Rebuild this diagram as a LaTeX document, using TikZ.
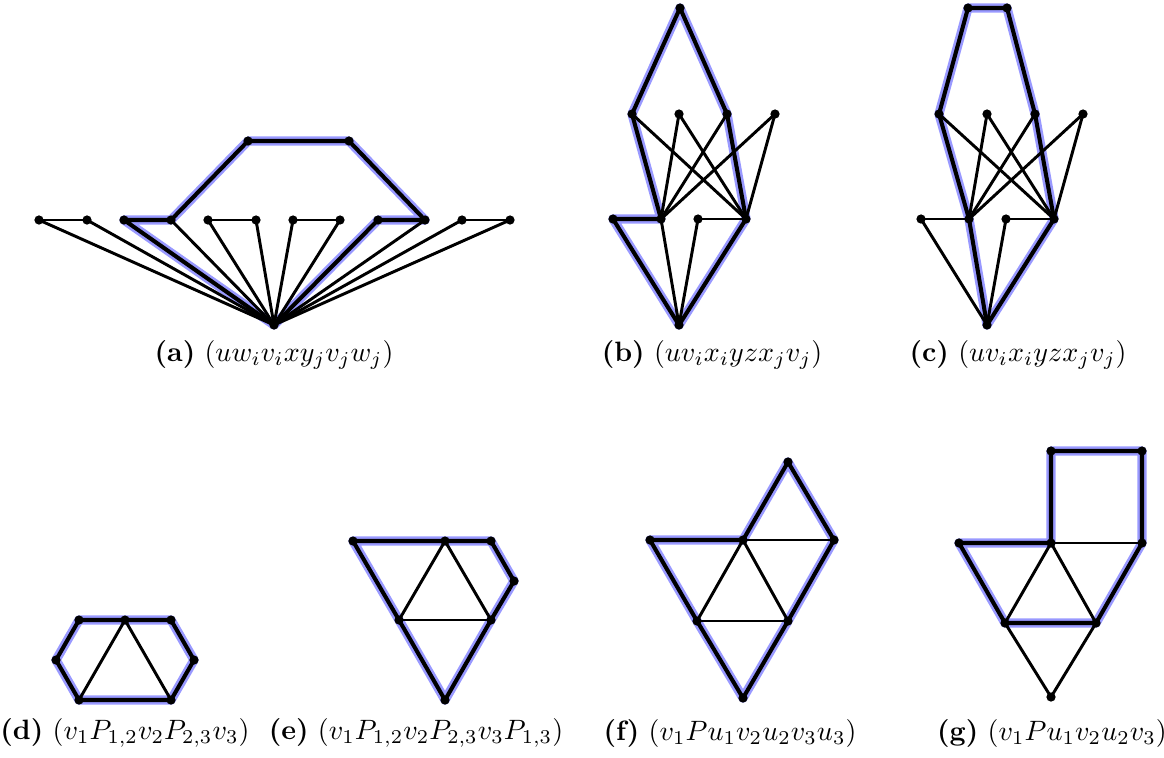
\documentclass[tikz,border=0pt]{standalone}
\begin{document}
\begin{tikzpicture}[x=0.3571pt,y=-0.3571pt,
  hl/.style={line width=3.3pt, blue!40, line cap=round, line join=round},
  tedge/.style={line width=1.45pt, black, line cap=round, line join=round},
  edge/.style={line width=1.05pt, black, line cap=round},
  dot/.style={circle, fill=black, inner sep=0pt, minimum size=3.3pt},
  captxt/.style={inner sep=0pt, anchor=center}]
\useasboundingbox (0,0) rectangle (1164,757);
% ---------- (a)
\foreach \n/\x in {1/39,2/87,3/124,4/171,5/208,6/256,7/293,8/340,9/378,10/425,11/462,12/510}
  \coordinate (a\n) at (\x,220);
\coordinate (ax) at (248,141); \coordinate (ay) at (349,141); \coordinate (au) at (274,325);
\draw[hl] (au) -- (a3) -- (a4) -- (ax) -- (ay) -- (a10) -- (a9) -- cycle;
\draw[tedge] (au) -- (a3) -- (a4) -- (ax) -- (ay) -- (a10) -- (a9) -- cycle;
\foreach \p/\q in {a1/a2,a5/a6,a7/a8,a11/a12,au/a1,au/a2,au/a4,au/a5,au/a6,au/a7,au/a8,au/a10,au/a11,au/a12}
  \draw[edge] (\p) -- (\q);
\foreach \c in {a1,a2,a3,a4,a5,a6,a7,a8,a9,a10,a11,a12,ax,ay,au}
  \node[dot] (n\c) at (\c) {};
\node[captxt] (capa) at (274,355) {\textbf{(a)} $(uw_iv_ixy_jv_jw_j)$};
% ---------- (b)
\coordinate (bt) at (680,8);
\coordinate (b1) at (632,114); \coordinate (b2) at (679,114); \coordinate (b3) at (727,114); \coordinate (b4) at (775,114);
\coordinate (b5) at (613,219); \coordinate (b6) at (661,219); \coordinate (b7) at (698,219); \coordinate (b8) at (746,219);
\coordinate (bu) at (679,325);
\draw[hl] (bu) -- (b5) -- (b6) -- (b1) -- (bt) -- (b3) -- (b8) -- cycle;
\draw[tedge] (bu) -- (b5) -- (b6) -- (b1) -- (bt) -- (b3) -- (b8) -- cycle;
\foreach \p/\q in {b1/b8,b2/b6,b2/b8,b3/b6,b4/b6,b4/b8,b6/bu,b7/b8,b7/bu}
  \draw[edge] (\p) -- (\q);
\foreach \c in {bt,b1,b2,b3,b4,b5,b6,b7,b8,bu}
  \node[dot] (n\c) at (\c) {};
\node[captxt] (capb) at (712,355) {\textbf{(b)} $(uv_ix_iyzx_jv_j)$};
% ---------- (c)
\coordinate (cl) at (968,8); \coordinate (cr) at (1007,8);
\coordinate (c1) at (939,114); \coordinate (c2) at (987,114); \coordinate (c3) at (1035,114); \coordinate (c4) at (1083,114);
\coordinate (c5) at (921,219); \coordinate (c6) at (969,219); \coordinate (c7) at (1006,219); \coordinate (c8) at (1054,219);
\coordinate (cu) at (987,325);
\draw[hl] (cu) -- (c6) -- (c1) -- (cl) -- (cr) -- (c3) -- (c8) -- cycle;
\draw[tedge] (cu) -- (c6) -- (c1) -- (cl) -- (cr) -- (c3) -- (c8) -- cycle;
\foreach \p/\q in {c1/c8,c2/c6,c2/c8,c3/c6,c4/c6,c4/c8,c5/c6,c5/cu,c7/c8,c7/cu}
  \draw[edge] (\p) -- (\q);
\foreach \c in {cl,cr,c1,c2,c3,c4,c5,c6,c7,c8,cu}
  \node[dot] (n\c) at (\c) {};
\node[captxt] (capc) at (1018,355) {\textbf{(c)} $(uv_ix_iyzx_jv_j)$};
% ---------- (d)
\coordinate (d1) at (79,620); \coordinate (d2) at (125,620); \coordinate (d3) at (171,620);
\coordinate (d4) at (56,660); \coordinate (d5) at (194,660);
\coordinate (d6) at (79,700); \coordinate (d7) at (171,700);
\draw[hl] (d1) -- (d2) -- (d3) -- (d5) -- (d7) -- (d6) -- (d4) -- cycle;
\draw[tedge] (d1) -- (d2) -- (d3) -- (d5) -- (d7) -- (d6) -- (d4) -- cycle;
\foreach \p/\q in {d2/d6,d2/d7}
  \draw[edge] (\p) -- (\q);
\foreach \c in {d1,d2,d3,d4,d5,d6,d7}
  \node[dot] (n\c) at (\c) {};
\node[captxt] (capd) at (125,733) {\textbf{(d)} $(v_1P_{1,2}v_2P_{2,3}v_3)$};
% ---------- (e)
\coordinate (e1) at (353,541); \coordinate (e2) at (445,541); \coordinate (e3) at (491,541);
\coordinate (e4) at (514,581); \coordinate (e5) at (399,620); \coordinate (e6) at (491,620);
\coordinate (e7) at (445,700);
\draw[hl] (e1) -- (e2) -- (e3) -- (e4) -- (e6) -- (e7) -- (e5) -- cycle;
\draw[tedge] (e1) -- (e2) -- (e3) -- (e4) -- (e6) -- (e7) -- (e5) -- cycle;
\foreach \p/\q in {e2/e5,e2/e6,e5/e6}
  \draw[edge] (\p) -- (\q);
\foreach \c in {e1,e2,e3,e4,e5,e6,e7}
  \node[dot] (n\c) at (\c) {};
\node[captxt] (cape) at (416,733) {\textbf{(e)} $(v_1P_{1,2}v_2P_{2,3}v_3P_{1,3})$};
% ---------- (f)
\coordinate (f1) at (788,462); \coordinate (f2) at (650,540); \coordinate (f3) at (743,540);
\coordinate (f4) at (834,540); \coordinate (f5) at (697,621); \coordinate (f6) at (788,621);
\coordinate (f7) at (743,698);
\draw[hl] (f2) -- (f3) -- (f1) -- (f4) -- (f6) -- (f7) -- (f5) -- cycle;
\draw[tedge] (f2) -- (f3) -- (f1) -- (f4) -- (f6) -- (f7) -- (f5) -- cycle;
\foreach \p/\q in {f3/f4,f3/f5,f3/f6,f5/f6}
  \draw[edge] (\p) -- (\q);
\foreach \c in {f1,f2,f3,f4,f5,f6,f7}
  \node[dot] (n\c) at (\c) {};
\node[captxt] (capf) at (730,733) {\textbf{(f)} $(v_1Pu_1v_2u_2v_3u_3)$};
% ---------- (g)
\coordinate (g1) at (1051,451); \coordinate (g2) at (1142,451);
\coordinate (g3) at (959,543); \coordinate (g4) at (1051,543); \coordinate (g5) at (1142,543);
\coordinate (g6) at (1005,623); \coordinate (g7) at (1096,623); \coordinate (g8) at (1051,697);
\draw[hl] (g3) -- (g4) -- (g1) -- (g2) -- (g5) -- (g7) -- (g6) -- cycle;
\draw[tedge] (g3) -- (g4) -- (g1) -- (g2) -- (g5) -- (g7) -- (g6) -- cycle;
\foreach \p/\q in {g4/g5,g4/g6,g4/g7,g6/g8,g7/g8}
  \draw[edge] (\p) -- (\q);
\foreach \c in {g1,g2,g3,g4,g5,g6,g7,g8}
  \node[dot] (n\c) at (\c) {};
\node[captxt] (capg) at (1052,733) {\textbf{(g)} $(v_1Pu_1v_2u_2v_3)$};
\end{tikzpicture}
\end{document}
